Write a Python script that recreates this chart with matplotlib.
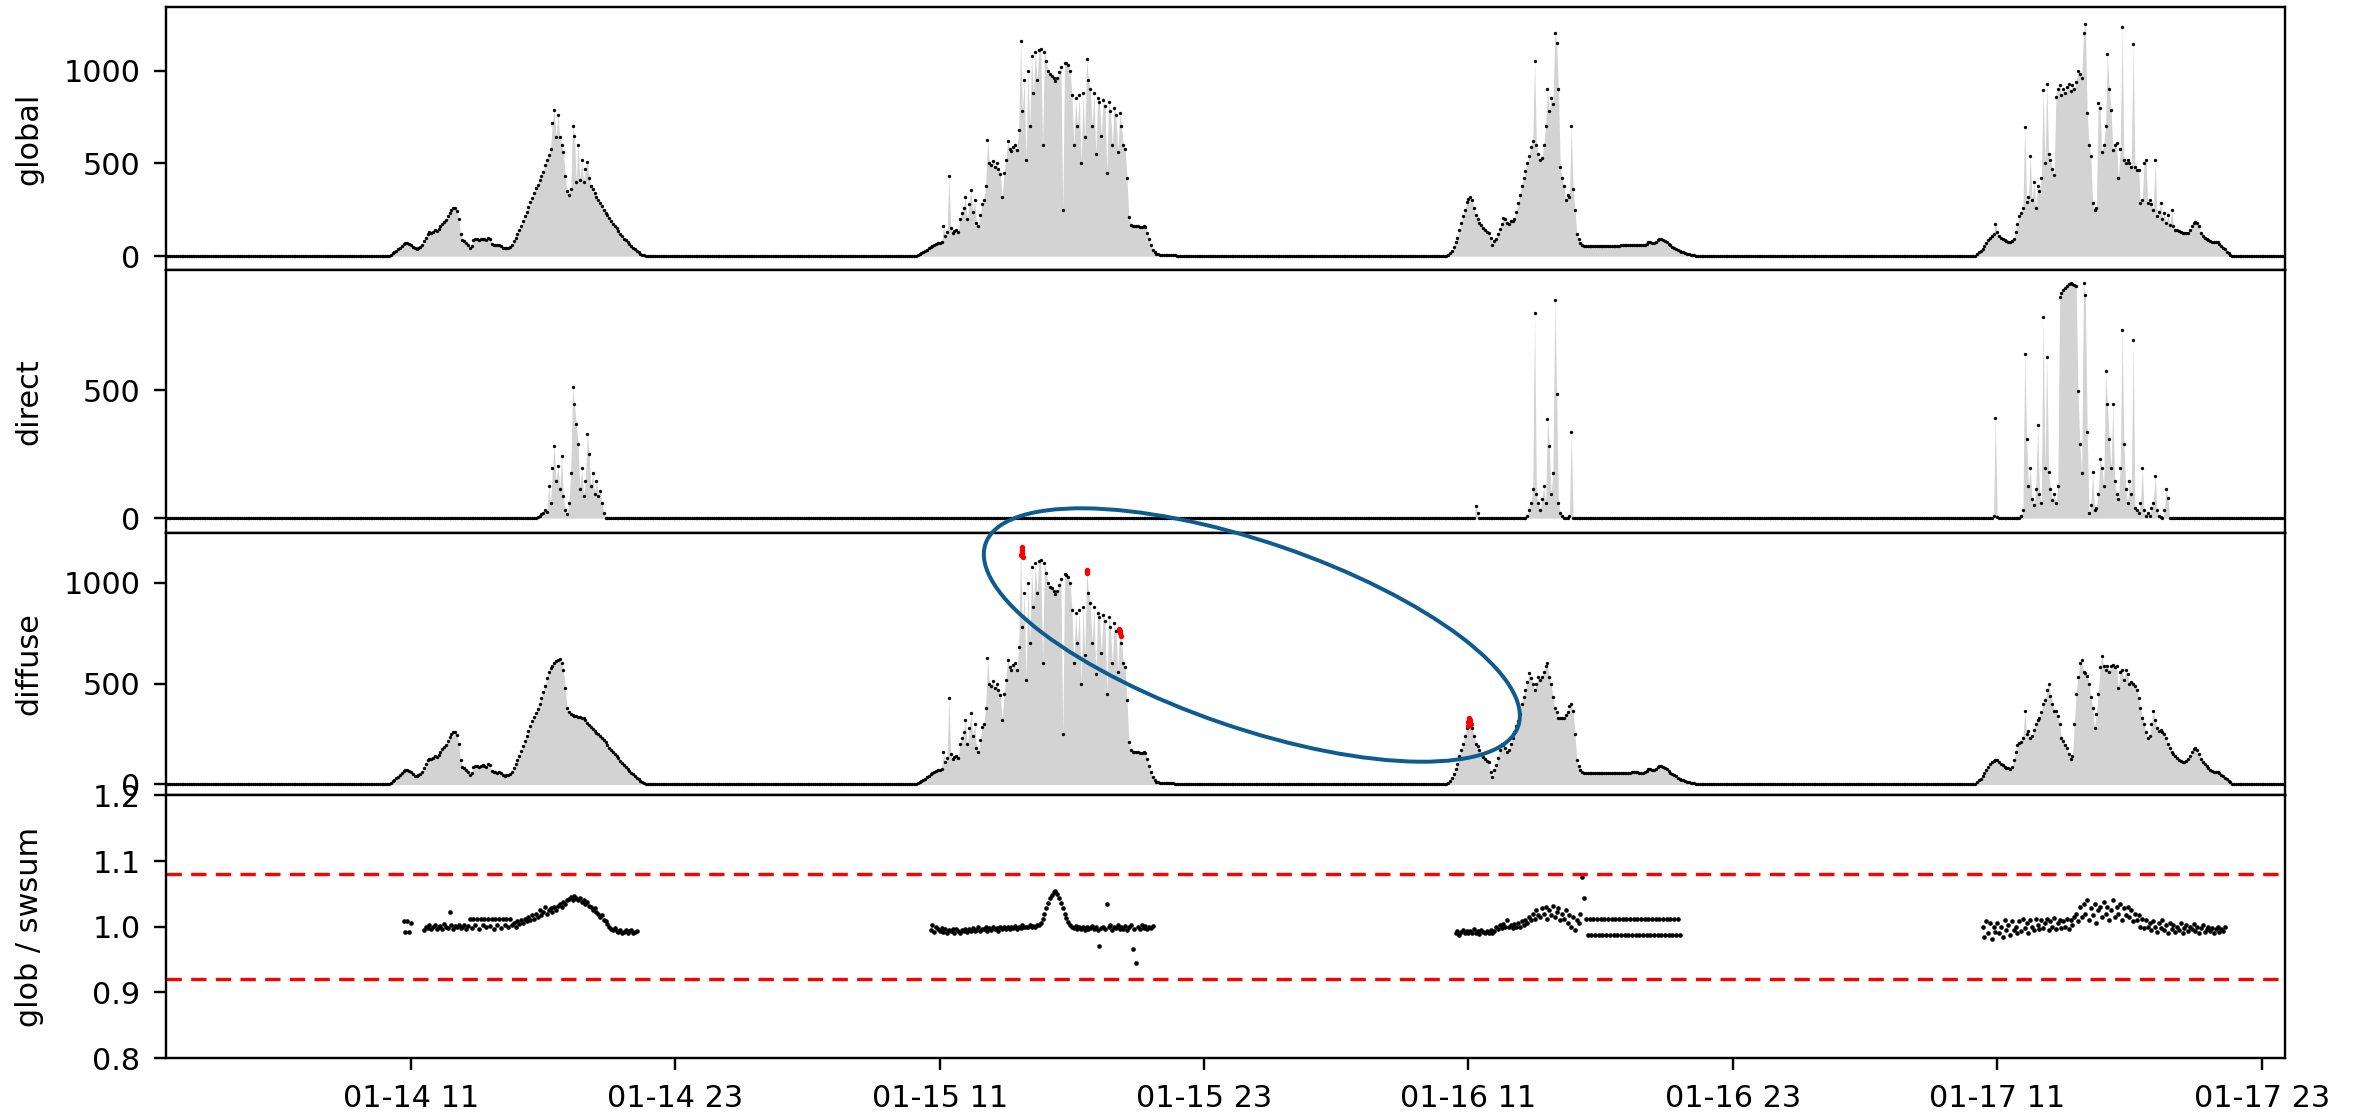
import numpy as np
import pandas as pd
import matplotlib
matplotlib.use("Agg")
import matplotlib.pyplot as plt
import matplotlib.dates as mdates
from matplotlib.patches import Ellipse
from matplotlib.transforms import IdentityTransform

nan = np.nan

# 5-minute samples, each daytime list starts at 10:00 of its day
global_d1 = [
    3, 8, 15, 22, 30, 38, 45, 55, 65, 70, 72, 68,
    62, 50, 42, 40, 45, 50, 60, 80, 100, 120, 128, 125,
    130, 140, 135, 145, 160, 175, 185, 195, 215, 235, 250, 262,
    258, 245, 200, 120, 85, 80, 70, 62, 45, 55, 85, 90,
    92, 88, 90, 95, 92, 88, 100, 95, 65, 60, 62, 58,
    60, 55, 45, 42, 45, 45, 50, 60, 80, 100, 120, 140,
    165, 190, 215, 240, 265, 290, 315, 340, 365, 385, 410, 430,
    455, 490, 520, 545, 575, 720, 790, 640, 760, 640, 600, 560,
    430, 350, 330, 360, 700, 650, 400, 600, 410, 520, 400, 470,
    510, 420, 380, 360, 340, 320, 300, 285, 270, 250, 235, 220,
    205, 190, 175, 162, 150, 135, 120, 108, 95, 85, 75, 65,
    55, 45, 36, 28, 20, 14, 9, 5, 2, 0, 0, 0,
    0,
]
global_d2 = [
    5, 10, 15, 20, 28, 35, 42, 50, 55, 60, 65, 70,
    72, 75, 160, 110, 130, 430, 150, 125, 135, 140, 130, 200,
    230, 260, 320, 200, 280, 354, 240, 300, 180, 160, 220, 283,
    300, 380, 628, 500, 490, 513, 480, 500, 470, 442, 318, 450,
    520, 619, 580, 566, 590, 600, 570, 680, 1158, 780, 950, 520,
    1000, 700, 1080, 880, 1100, 950, 1110, 1115, 600, 1100, 1050, 1000,
    980, 972, 960, 946, 960, 990, 1020, 250, 1043, 1040, 1030, 1000,
    866, 600, 850, 700, 866, 500, 880, 640, 1060, 950, 900, 700,
    880, 550, 850, 830, 650, 840, 810, 450, 830, 780, 600, 800,
    760, 560, 770, 700, 600, 580, 420, 212, 170, 162, 160, 160,
    160, 158, 158, 160, 155, 124, 90, 60, 35, 20, 12, 10,
    9, 9, 9, 9, 8, 8, 7, 6, 4, 2, 0, 0,
    0,
]
global_d3 = [
    3, 8, 15, 30, 50, 75, 100, 140, 180, 215, 250, 290,
    310, 320, 300, 260, 220, 200, 180, 170, 150, 140, 130, 125,
    100, 60, 80, 95, 120, 145, 175, 205, 200, 180, 175, 190,
    190, 200, 240, 286, 330, 380, 420, 460, 500, 540, 590, 620,
    1050, 600, 550, 520, 530, 600, 700, 900, 780, 850, 820, 1200,
    1150, 900, 480, 420, 380, 300, 330, 320, 700, 360, 250, 120,
    90, 70, 60, 55, 55, 55, 55, 55, 55, 55, 55, 55,
    55, 55, 55, 55, 55, 55, 56, 56, 56, 57, 57, 58,
    58, 58, 58, 58, 58, 60, 60, 60, 60, 58, 58, 58,
    62, 68, 75, 78, 70, 72, 78, 85, 90, 90, 88, 82,
    75, 65, 58, 52, 46, 40, 34, 28, 24, 20, 17, 14,
    11, 9, 7, 5, 3, 2, 1, 0, 0, 0, 0, 0,
    0,
]
global_d4 = [
    3, 10, 20, 30, 40, 55, 70, 85, 100, 107, 120, 175,
    130, 107, 100, 95, 85, 80, 79, 79, 80, 90, 130, 175,
    215, 230, 260, 698, 290, 320, 540, 300, 400, 260, 380, 350,
    420, 895, 500, 930, 550, 520, 470, 440, 860, 900, 920, 870,
    900, 880, 910, 930, 890, 920, 900, 940, 1000, 980, 960, 1200,
    1253, 770, 600, 540, 286, 250, 260, 823, 800, 560, 600, 700,
    1090, 900, 788, 572, 600, 608, 420, 580, 1235, 520, 500, 520,
    500, 480, 1145, 480, 465, 465, 286, 300, 500, 520, 286, 300,
    280, 250, 520, 215, 240, 286, 200, 230, 180, 220, 170, 250,
    160, 143, 140, 135, 130, 125, 125, 125, 125, 140, 160, 180,
    186, 180, 160, 125, 110, 100, 90, 85, 80, 79, 79, 79,
    75, 65, 55, 45, 36, 25, 15, 8, 3, 0, 0, 0,
    0,
]

direct_d1 = [  # from 16:45
    5, 10, 15, 20, 30, 25, 125, 60, 195, 280, 145, 205,
    115, 242, 85, 30, 15, 60, 175, 512, 445, 367, 290, 115,
    195, 85, 145, 329, 250, 125, 175, 95, 145, 85, 105, 60,
    20, 0,
]
direct_d3a = [0, 48, 20, 0]  # from 11:15
direct_d3b = [  # from 13:40
    10, 30, 60, 115, 803, 95, 60, 30, 75, 125, 60, 387,
    280, 95, 175, 853, 485, 60, 20, 10, 0, 0, 0, 10,
    338, 0,
]
direct_d4 = [  # from 10:00
    0, 0, 0, 0, 0, 0, 0, 0, 0, 0, 10, 391,
    5, 0, 0, 0, 0, 0, 0, 0, 0, 0, 0, 0,
    0, 10, 30, 641, 310, 125, 195, 75, 50, 115, 365, 95,
    60, 787, 195, 629, 180, 115, 72, 95, 60, 125, 865, 880,
    890, 899, 905, 914, 918, 916, 909, 905, 496, 290, 175, 918,
    870, 338, 20, 50, 180, 30, 40, 95, 232, 195, 125, 575,
    445, 310, 195, 445, 145, 95, 75, 195, 735, 290, 115, 60,
    145, 95, 694, 40, 30, 20, 60, 195, 30, 10, 20, 10,
    40, 60, 166, 30, 10, 5, 0, 30, 113, 78, 0, 0,
]

diffuse_d1 = global_d1[:72] + [
    165, 190, 215, 240, 265, 290, 315, 335, 355, 375, 400, 430,
    460, 490, 530, 560, 575, 585, 600, 610, 615, 620, 600, 570,
    480, 380, 360, 350, 345, 340, 338, 336, 334, 332, 330, 320,
    305, 295, 285, 275, 265, 255, 248, 240, 230, 220, 210, 195,
    182, 172, 160, 150, 140, 130, 118, 108, 98, 88, 78, 68,
    58, 50, 42, 34, 26, 18, 12, 7, 3, 0, 0, 0,
    0,
]
diffuse_d2 = global_d2  # overcast day: diffuse equals global
diffuse_d3 = [
    3, 8, 15, 30, 50, 75, 100, 140, 170, 200, 240, 280,
    320, 310, 280, 240, 200, 190, 170, 150, 135, 125, 115, 110,
    60, 35, 70, 95, 130, 170, 200, 196, 180, 162, 170, 200,
    230, 260, 290, 314, 350, 400, 433, 470, 510, 551, 530, 500,
    466, 500, 534, 520, 534, 560, 585, 600, 534, 500, 433, 380,
    360, 331, 331, 331, 331, 345, 360, 390, 400, 365, 250, 120,
] + global_d3[72:]
diffuse_d4 = [
    3, 10, 20, 27, 40, 55, 70, 85, 100, 112, 118, 122,
    120, 110, 100, 95, 88, 82, 80, 78, 85, 120, 160, 196,
    205, 213, 230, 365, 250, 264, 230, 240, 270, 300, 320, 331,
    360, 400, 420, 466, 500, 440, 400, 365, 365, 340, 300, 230,
    215, 196, 180, 150, 128, 140, 300, 450, 534, 600, 618, 560,
    551, 540, 500, 433, 380, 280, 350, 450, 580, 635, 585, 570,
    585, 560, 585, 590, 580, 585, 480, 560, 568, 520, 568, 550,
    500, 510, 500, 490, 470, 430, 380, 331, 300, 260, 230, 240,
    300, 365, 320, 280, 264, 270, 260, 250, 230, 200, 180, 162,
    150, 140, 130, 120, 115, 112, 112, 115, 125, 140, 160, 175,
    179, 170, 150, 125, 112, 100, 90, 80, 70, 65, 62, 61,
    60, 55, 48, 40, 32, 25, 17, 10, 4, 0, 0, 0,
    0,
]

# flagged diffuse samples (red)
flag_times = [
    "2020-01-15 14:42", "2020-01-15 14:43", "2020-01-15 14:44", "2020-01-15 14:45",
    "2020-01-15 14:46", "2020-01-15 17:40", "2020-01-15 17:41", "2020-01-15 17:42",
    "2020-01-15 19:08", "2020-01-15 19:10", "2020-01-15 19:12", "2020-01-15 19:14",
    "2020-01-16 10:58", "2020-01-16 11:00", "2020-01-16 11:02", "2020-01-16 11:04",
    "2020-01-16 11:06",
]
flag_values = [1140, 1160, 1175, 1150, 1130, 1050, 1060, 1065,
               770, 760, 750, 735, 290, 310, 330, 320, 300]

# glob / swsum ratio
ratio_d1 = [  # from 10:40
    1.008, 0.992, 1.008, 0.992, 1.006, nan, nan, nan, nan, nan, nan,
    0.995, 1.0, 0.998, 1.003, 0.996, 1.0, 1.002, 0.997, 0.999, 1.001, 0.996, 1.004,
    1.0, 0.998, 1.023, 1.002, 0.997, 1.001, 0.999, 1.003, 0.998, 1.0, 1.002, 0.997, 1.001,
    1.011, 0.998, 1.011, 1.002, 1.011, 0.997, 1.011, 1.003, 1.011, 0.999, 1.011, 1.001,
    1.011, 0.996, 1.011, 1.002, 1.011, 0.998, 1.011, 1.003, 1.011, 0.999, 1.011,
    1.003, 1.005, 1.0, 1.008, 1.004, 1.01, 1.006, 1.012, 1.008, 1.015, 1.01, 1.018,
    1.012, 1.02, 1.015, 1.025, 1.018, 1.022, 1.03, 1.02, 1.025, 1.028, 1.022, 1.03,
    1.026, 1.032, 1.035, 1.03, 1.038, 1.035, 1.04,
    1.042, 1.045, 1.04, 1.046, 1.043, 1.04, 1.044, 1.038, 1.04, 1.035, 1.037,
    1.032, 1.03, 1.026, 1.028, 1.022, 1.02, 1.015, 1.018, 1.01, 1.008, 1.004, 1.0,
    0.997, 0.995, 0.998, 0.993, 0.992, 0.995, 0.99,
    0.992, 0.995, 0.99, 0.993, 0.995, 0.99, 0.992, 0.994,
]
ratio_d2 = [  # from 10:35
    0.995, 1.003, 0.992, 1.0, 0.996,
    0.994, 0.998, 0.992, 0.996, 0.99, 0.995, 0.993, 0.997, 0.991, 0.996, 0.994, 0.99,
    0.995, 0.993, 0.997, 0.992, 0.996, 0.994, 0.998, 0.993, 0.995, 0.999, 0.994, 0.997,
    0.996, 0.999, 0.994, 0.998, 0.995, 1.0, 0.996, 0.998, 0.994, 0.999, 0.997, 1.0,
    0.997, 1.0, 0.996, 0.999, 0.998, 1.001, 0.997, 1.0, 0.998, 1.002, 0.999, 1.0,
    1.0, 1.002, 0.999, 1.001, 1.0, 1.003, 1.002, 1.006, 1.012, 1.02, 1.028, 1.036,
    1.043, 1.049, 1.053, 1.054, 1.05, 1.044, 1.036, 1.028, 1.02, 1.013, 1.007, 1.003,
    1.0, 0.998, 1.001, 0.996, 1.0, 0.997, 0.999, 0.995, 1.0, 0.996, 0.998, 1.001,
    0.997, 1.0, 0.995, 0.97, 0.998, 1.0, 0.996, 1.034, 0.999, 1.003, 0.995, 1.0,
    0.998, 1.002, 0.996, 1.0, 0.997, 1.001, 0.995, 0.999, 1.002, 0.966, 0.997, 0.945,
    1.0, 0.996, 1.002, 0.998, 1.001, 0.997, 1.0, 0.998, 1.001,
]
ratio_d3 = [  # from 10:25
    0.99, 0.994, 0.988, 0.992, 0.995, 0.99, 0.993,
    0.99, 0.994, 0.991, 0.996, 0.99, 0.993, 0.989, 0.995, 0.992, 0.99, 0.994, 0.991,
    0.995, 0.99, 0.993, 1.0, 0.996, 1.002, 0.998, 1.004, 0.999, 1.01, 1.0, 1.003,
    0.998, 1.004, 1.0, 1.006, 0.999, 1.008, 1.003, 1.01, 1.005, 1.015, 1.01, 1.02,
    1.012, 1.025, 1.018, 1.015, 1.028, 1.02, 1.03, 1.012, 1.025, 1.018, 1.032, 1.015,
    1.022, 1.028, 1.01, 1.02, 1.012, 1.025, 1.005, 1.018, 1.0, 1.015, 0.995, 1.01,
    1.005, 1.02, 1.075, 1.044, 1.011, 0.988, 1.011, 0.988, 1.011, 0.988, 1.011, 0.988,
    1.011, 0.988, 1.011, 0.988, 1.011, 0.988, 1.011, 0.988, 1.011, 0.988, 1.011, 0.988,
    1.011, 0.988, 1.011, 0.988, 1.011, 0.988, 1.011, 0.988, 1.011, 0.988, 1.011, 0.988,
    1.011, 0.988, 1.011, 0.988, 1.011, 0.988, 1.011, 0.988, 1.011, 0.988, 1.011, 0.988,
    1.011, 0.988, 1.011, 0.988, 1.011, 0.988, 1.011, 0.988,
]
ratio_d4 = [  # from 10:20
    1.0, 0.985, 1.008, 0.99, 1.005, 0.982, 1.0, 0.992,
    1.005, 0.99, 1.0, 0.985, 1.01, 0.995, 1.003, 0.988, 1.008, 0.995, 1.0, 0.99,
    1.008, 0.993, 1.012, 0.998, 1.005, 0.99, 1.01, 1.0, 0.995, 1.012, 1.002, 0.996,
    1.01, 0.998, 1.005, 1.012, 0.995, 1.008, 1.0, 1.014, 0.997, 1.006, 1.01, 0.998,
    1.008, 1.0, 1.012, 0.996, 1.01, 1.003, 1.015, 1.02, 1.008, 1.03, 1.015, 1.035,
    1.02, 1.04, 1.01, 1.028, 1.018, 1.035, 1.005, 1.025, 1.03, 1.015, 1.038, 1.02,
    1.03, 1.01, 1.025, 1.04, 1.015, 1.03, 1.02, 1.035, 1.01, 1.028, 1.018, 1.03,
    1.015, 1.025, 1.008, 1.02, 1.01, 1.018, 1.0, 1.012, 0.998, 1.01, 1.0, 1.005,
    0.995, 1.008, 1.0, 0.992, 1.005, 0.998, 1.01, 0.995, 1.003, 0.99, 1.005, 0.996,
    1.002, 0.992, 1.0, 0.995, 1.006, 0.99, 0.998, 1.003, 0.993, 1.0, 0.996, 1.004,
    0.994, 1.0, 0.99, 0.998, 1.003, 0.992, 0.997, 1.0, 0.993, 0.998, 0.99, 0.996,
    1.0, 0.992, 0.997, 0.994, 0.999,
]
ratio_limits = [1.08, 0.92]

index = pd.date_range("2020-01-13 23:50", "2020-01-18 00:05", freq="5min")


def build(segments, fill):
    s = pd.Series(fill, index=index, dtype=float)
    for start, vals in segments:
        t = pd.date_range(start, periods=len(vals), freq="5min")
        s.loc[t] = vals
    return s


glob = build([("2020-01-14 10:00", global_d1), ("2020-01-15 10:00", global_d2),
              ("2020-01-16 10:00", global_d3), ("2020-01-17 10:00", global_d4)], 0.0)
direct = build([("2020-01-14 16:45", direct_d1), ("2020-01-16 11:15", direct_d3a),
                ("2020-01-16 13:40", direct_d3b), ("2020-01-17 10:00", direct_d4)], 0.0)
diffuse = build([("2020-01-14 10:00", diffuse_d1), ("2020-01-15 10:00", diffuse_d2),
                 ("2020-01-16 10:00", diffuse_d3), ("2020-01-17 10:00", diffuse_d4)], 0.0)
ratio = build([("2020-01-14 10:40", ratio_d1), ("2020-01-15 10:35", ratio_d2),
               ("2020-01-16 10:25", ratio_d3), ("2020-01-17 10:20", ratio_d4)], nan)

plt.rcParams.update({
    "font.size": 14.5,
    "axes.linewidth": 1.15,
    "axes.labelpad": 9.5,
    "xtick.major.size": 5.8, "ytick.major.size": 5.8,
    "xtick.major.width": 1.15, "ytick.major.width": 1.15,
    "xtick.major.pad": 6.5, "ytick.major.pad": 6.5,
})

fig, axes = plt.subplots(4, 1, sharex=True, figsize=(2366 / 150, 1113 / 150), dpi=150)
fig.subplots_adjust(left=0.0702, right=0.9658, top=0.9933, bottom=0.0494, hspace=0)

ylims = [(-75, 1340), (-57, 969), (-54, 1248)]
for ax, s, name, lim in zip(axes[:3], [glob, direct, diffuse], ["global", "direct", "diffuse"], ylims):
    ax.fill_between(s.index, 0, s.values, color="lightgray", lw=0, zorder=1)
    ax.plot(s.index, s.values, "o", color="k", ms=1.6, mew=0, zorder=2)
    ax.set_ylabel(name)
    ax.set_yticks([0, 500, 1000])
    ax.set_ylim(lim)
    ax.tick_params(axis="x", bottom=False)

axes[2].plot(pd.to_datetime(flag_times), flag_values, "o", color="red", ms=2.6, mew=0, zorder=3)

ax = axes[3]
ax.plot(ratio.index, ratio.values, "o", color="k", ms=2.2, mew=0)
for v in ratio_limits:
    ax.axhline(v, color="red", ls=(0, (4.6, 2.8)), lw=1.6)
ax.set_yticks([0.8, 0.9, 1.0, 1.1, 1.2])
ax.set_ylim(0.8, 1.2)
ax.set_ylabel("glob / swsum")

ticks = pd.date_range("2020-01-14 11:00", periods=8, freq="12h")
ax.set_xticks(mdates.date2num(ticks.to_pydatetime()))
ax.xaxis.set_major_formatter(mdates.DateFormatter("%m-%d %H"))
ax.set_xlim(pd.Timestamp("2020-01-13 23:53"), pd.Timestamp("2020-01-18 00:04"))
fig.align_ylabels(axes)

# highlight of the flagged diffuse samples
cx, cy = axes[2].transData.transform((mdates.date2num(pd.Timestamp("2020-01-16 01:10")), 741))
fig.add_artist(Ellipse((cx, cy), 563, 186, angle=-18.9, transform=IdentityTransform(),
                       fill=False, ec="#0d5b8f", lw=1.9, zorder=10))

fig.savefig("out.png", dpi=150)
